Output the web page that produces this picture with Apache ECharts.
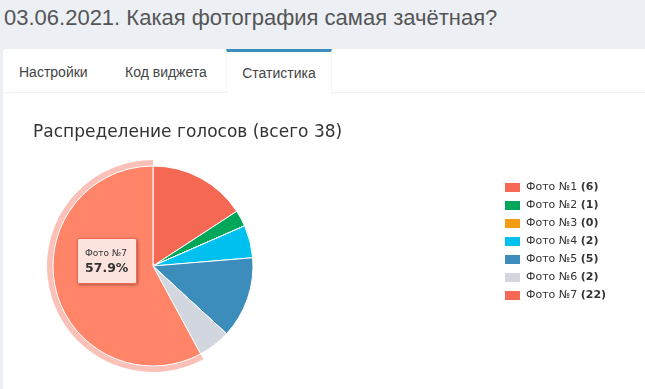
<!DOCTYPE html>
<html><head><meta charset="utf-8">
<script src="https://cdn.jsdelivr.net/npm/echarts@6/dist/echarts.min.js"></script>
<style>
html,body{margin:0;padding:0;width:645px;height:389px;overflow:hidden;background:#ecf0f5;font-family:"Liberation Sans",Arial,sans-serif;}
#h{position:absolute;left:4px;top:5px;font-size:22px;color:#555;white-space:nowrap;}
#card{position:absolute;left:3px;top:49px;width:642px;height:340px;background:#fff;border-radius:3px 0 0 0;}
#tabs{position:absolute;left:0;top:0;width:642px;height:43px;border-bottom:1px solid #f1f1f1;}
.tab{position:absolute;top:0;height:43px;line-height:46px;font-size:14px;color:#444;}
#act{left:223px;width:104px;border-top:3px solid #3c8dbc;border-left:1px solid #f4f4f4;border-right:1px solid #f4f4f4;height:41px;line-height:42px;text-align:center;background:#fff;}
#chart{position:absolute;left:0;top:0;width:645px;height:389px;}
</style></head>
<body>
<div id="h">03.06.2021. Какая фотография самая зачётная?</div>
<div id="card"><div id="tabs">
<div class="tab" style="left:16px">Настройки</div>
<div class="tab" style="left:122px">Код виджета</div>
<div class="tab" id="act">Статистика</div>
</div></div>
<div id="chart"></div>
<script>
const chartTitle = 'Распределение голосов (всего 38)';
const categories = ['Фото №1','Фото №2','Фото №3','Фото №4','Фото №5','Фото №6','Фото №7'];
const votes = [6, 1, 0, 2, 5, 2, 22];
const colors = ['#f56954','#00a65a','#f39c12','#00c0ef','#3c8dbc','#d2d6de','#f56954'];
const hoverIndex = 6;
const hoverColor = '#ff8468';
const haloColor = 'rgba(245,105,84,0.42)';

const font = 'DejaVu Sans';
const chart = echarts.init(document.getElementById('chart'), null, {renderer:'canvas'});
const mainData = categories.map((n,i)=>{
  const d = {name:n, value:votes[i], itemStyle:{color:colors[i]}};
  if(i===hoverIndex) d.emphasis = {itemStyle:{color:hoverColor}};
  return d;
});
const haloData = categories.map((n,i)=>({name:n, value:votes[i], itemStyle:{color: i===hoverIndex?haloColor:'rgba(0,0,0,0)'}}));
chart.setOption({
  animation:false,
  title:{text:chartTitle,left:28,top:119,textStyle:{fontFamily:font,fontSize:17,fontWeight:'normal',color:'#333'}},
  legend:{
    orient:'vertical',left:498,top:176,itemWidth:17,itemHeight:11,itemGap:5,icon:'rect',
    data:categories,
    formatter:(name)=>'{n|'+name+'} {b|('+votes[categories.indexOf(name)]+')}',
    textStyle:{fontFamily:font,fontSize:11,color:'#333',rich:{n:{fontFamily:font,fontSize:11,color:'#333'},b:{fontFamily:font,fontSize:11,fontWeight:'bold',color:'#333'}}}
  },
  tooltip:{
    trigger:'item',triggerOn:'none',alwaysShowContent:true,transitionDuration:0,
    position:[77,238],
    backgroundColor:'rgba(252,232,228,0.95)',borderColor:'#f56954',borderWidth:1,borderRadius:2,padding:[8,8,7,7],
    extraCssText:'box-shadow:1px 1px 3px rgba(0,0,0,0.35);width:43px;',
    formatter:(p)=>'<div style="font-family:DejaVu Sans;font-size:9px;color:#333;line-height:13px">'+p.name+'</div><div style="font-family:DejaVu Sans;font-size:12.5px;font-weight:bold;color:#333;line-height:16px">'+p.percent.toFixed(1)+'%</div>'
  },
  series:[
    {type:'pie',name:'votes',radius:[0,100],center:[153,266],startAngle:90,clockwise:true,percentPrecision:1,
     label:{show:false},labelLine:{show:false},
     itemStyle:{borderColor:'#fff',borderWidth:1},
     emphasis:{scale:false,focus:'none'},
     data:mainData,z:2},
    {type:'pie',name:'halo',silent:true,radius:[100,106],center:[153,266],startAngle:90,clockwise:true,
     label:{show:false},labelLine:{show:false},tooltip:{show:false},data:haloData,z:1,
     emphasis:{disabled:true}}
  ]
});
chart.dispatchAction({type:'highlight',seriesIndex:0,dataIndex:hoverIndex});
chart.dispatchAction({type:'showTip',seriesIndex:0,dataIndex:hoverIndex});
</script>
</body></html>
